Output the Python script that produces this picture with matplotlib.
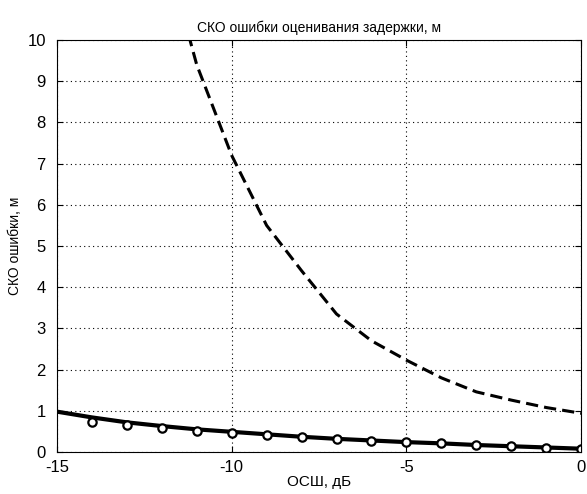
import matplotlib.pyplot as plt

snr = [-15, -14, -13, -12, -11, -10, -9, -8, -7, -6, -5, -4, -3, -2, -1, 0]
rmse_dashed = [25.0, 20.0, 16.0, 12.5, 9.4, 7.2, 5.5, 4.4, 3.35, 2.7, 2.23, 1.8, 1.46, 1.26, 1.08, 0.94]
rmse_solid = [0.98, 0.84, 0.72, 0.63, 0.55, 0.49, 0.43, 0.37, 0.32, 0.28, 0.24, 0.21, 0.17, 0.14, 0.11, 0.08]
snr_sim = [-14, -13, -12, -11, -10, -9, -8, -7, -6, -5, -4, -3, -2, -1, 0]
rmse_sim = [0.74, 0.66, 0.58, 0.52, 0.47, 0.41, 0.37, 0.31, 0.27, 0.24, 0.21, 0.17, 0.14, 0.10, 0.07]


def main():
    plt.rcParams['font.family'] = ['Liberation Sans', 'DejaVu Sans']
    plt.rcParams['axes.unicode_minus'] = False
    fig = plt.figure(figsize=(5.87, 4.94), dpi=100)
    ax = fig.add_axes([0.097, 0.085, 0.893, 0.834])

    ax.plot(snr, rmse_dashed, 'k--', linewidth=2.2, dashes=(4, 2))
    ax.plot(snr, rmse_solid, 'k-', linewidth=3)
    ax.plot(snr_sim, rmse_sim, 'ko', markersize=6, markeredgewidth=1.6,
            markerfacecolor='white', linestyle='none')

    ax.set_xlim(-15, 0)
    ax.set_ylim(0, 10)
    ax.set_xticks([-15, -10, -5, 0])
    ax.set_yticks(range(0, 11))
    ax.grid(True, color='black', linestyle=(0, (1, 3)), linewidth=0.8)
    ax.tick_params(direction='in', top=True, right=True, labelsize=12, length=4)
    ax.tick_params(axis='y', pad=8)
    ax.tick_params(axis='x', pad=6)
    for s in ax.spines.values():
        s.set_linewidth(0.8)

    ax.set_title("СКО ошибки оценивания задержки, м", fontsize=10)
    ax.set_xlabel("ОСШ, дБ", fontsize=11, labelpad=0)
    ax.set_ylabel("СКО ошибки, м", fontsize=10, labelpad=4)

    fig.savefig("out.png")


if __name__ == "__main__":
    main()
